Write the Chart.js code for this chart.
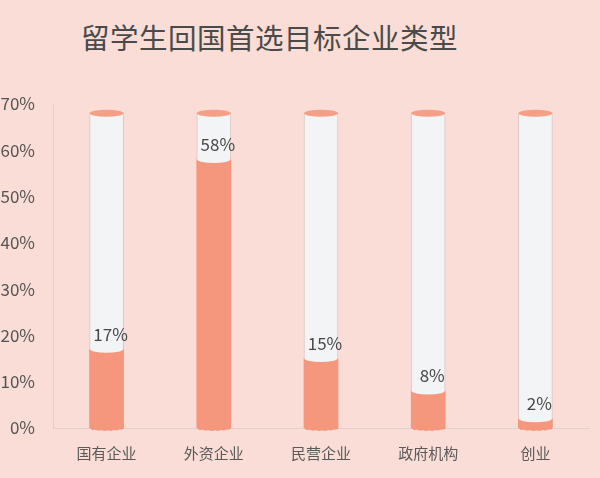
<!DOCTYPE html>
<html>
<head>
<meta charset="utf-8">
<script src="https://cdn.jsdelivr.net/npm/chart.js@4.4.0/dist/chart.umd.min.js"></script>
<style>
  html, body { margin: 0; padding: 0; background: #f9ddd6; }
  .wrap { position: relative; width: 600px; height: 478px; }
  h1 {
    position: absolute; left: 81px; top: 21px; margin: 0;
    font: 400 28.5px "Noto Sans CJK SC", sans-serif; line-height: 1.1;
    color: #4a4a4a; letter-spacing: 0.5px;
  }
  canvas { position: absolute; left: 0; top: 0; }
</style>
</head>
<body>
<div class="wrap">
  <h1 id="title"></h1>
  <canvas id="chart" width="600" height="478"></canvas>
</div>
<script>
const chartTitle = '留学生回国首选目标企业类型';
const categories = ['国有企业', '外资企业', '民营企业', '政府机构', '创业'];
const shares = [17, 58, 15, 8, 2];
const tubeHeight = [68, 68, 68, 68, 68]; // the empty cylinder behind each bar
const yTicks = [0, 10, 20, 30, 40, 50, 60, 70];

const salmon = '#f5977d';
const tubeColor = '#f3f4f6';

document.getElementById('title').textContent = chartTitle;

// draws the cylinder ends and the value labels
const cylinderPlugin = {
    id: 'cylinder',
    afterDatasetsDraw(chart) {
        const ctx = chart.ctx;
        const valueMeta = chart.getDatasetMeta(0);
        const tubeMeta = chart.getDatasetMeta(1);
        const bottom = chart.scales.y.getPixelForValue(0);
        ctx.save();

        tubeMeta.data.forEach((bar) => {
            const rx = bar.width / 2;
            ctx.beginPath();
            ctx.ellipse(bar.x, bar.y, rx, 3.5, 0, 0, Math.PI * 2);
            ctx.fillStyle = '#f69f87';
            ctx.fill();
        });

        valueMeta.data.forEach((bar, i) => {
            const rx = bar.width / 2;
            // bottom rim
            ctx.beginPath();
            ctx.ellipse(bar.x, bottom, rx, 2.5, 0, 0, Math.PI);
            ctx.fillStyle = salmon;
            ctx.fill();
            ctx.setLineDash([3, 3]);
            ctx.strokeStyle = 'rgba(210,130,110,0.5)';
            ctx.lineWidth = 1;
            ctx.stroke();
            ctx.setLineDash([]);
            // top face of the filled part
            ctx.beginPath();
            ctx.ellipse(bar.x, bar.y, rx - 0.5, 3.5, 0, 0, Math.PI * 2);
            ctx.fillStyle = tubeColor;
            ctx.fill();

            ctx.fillStyle = '#484848';
            ctx.font = '17px "Noto Sans CJK SC", sans-serif';
            ctx.textAlign = 'center';
            ctx.textBaseline = 'middle';
            ctx.fillText(shares[i] + '%', bar.x + 4, bar.y - 15);
        });
        ctx.restore();
    }
};

new Chart(document.getElementById('chart'), {
    type: 'bar',
    data: {
        labels: categories,
        datasets: [
            {
                data: shares,
                backgroundColor: salmon,
                barThickness: 34,
                grouped: false,
                borderWidth: 0,
            },
            {
                data: tubeHeight,
                backgroundColor: tubeColor,
                borderColor: 'rgba(190,170,168,0.45)',
                borderWidth: { left: 1, right: 1, top: 0, bottom: 0 },
                borderSkipped: false,
                barThickness: 34,
                grouped: false,
            },
        ],
    },
    options: {
        responsive: false,
        animation: false,
        layout: { padding: { top: 104, right: 11, bottom: 0, left: 0 } },
        plugins: {
            legend: { display: false },
            tooltip: { enabled: false },
        },
        scales: {
            x: {
                grid: { display: false, drawTicks: false },
                border: { color: '#e3cfca', width: 1 },
                ticks: {
                    padding: 16,
                    color: '#5a5a5a',
                    font: { family: '"Noto Sans CJK SC", sans-serif', size: 15 },
                },
            },
            y: {
                min: 0,
                max: 70,
                afterFit(scale) { scale.width = 53; },
                afterBuildTicks(scale) { scale.ticks = yTicks.map((v) => ({ value: v })); },
                grid: { display: false, drawTicks: false },
                border: { color: '#e3cfca', width: 1 },
                ticks: {
                    padding: 18,
                    color: '#555',
                    font: { family: '"Noto Sans CJK SC", sans-serif', size: 17 },
                    callback: (v) => v + '%',
                },
            },
        },
    },
    plugins: [cylinderPlugin],
});
</script>
</body>
</html>
